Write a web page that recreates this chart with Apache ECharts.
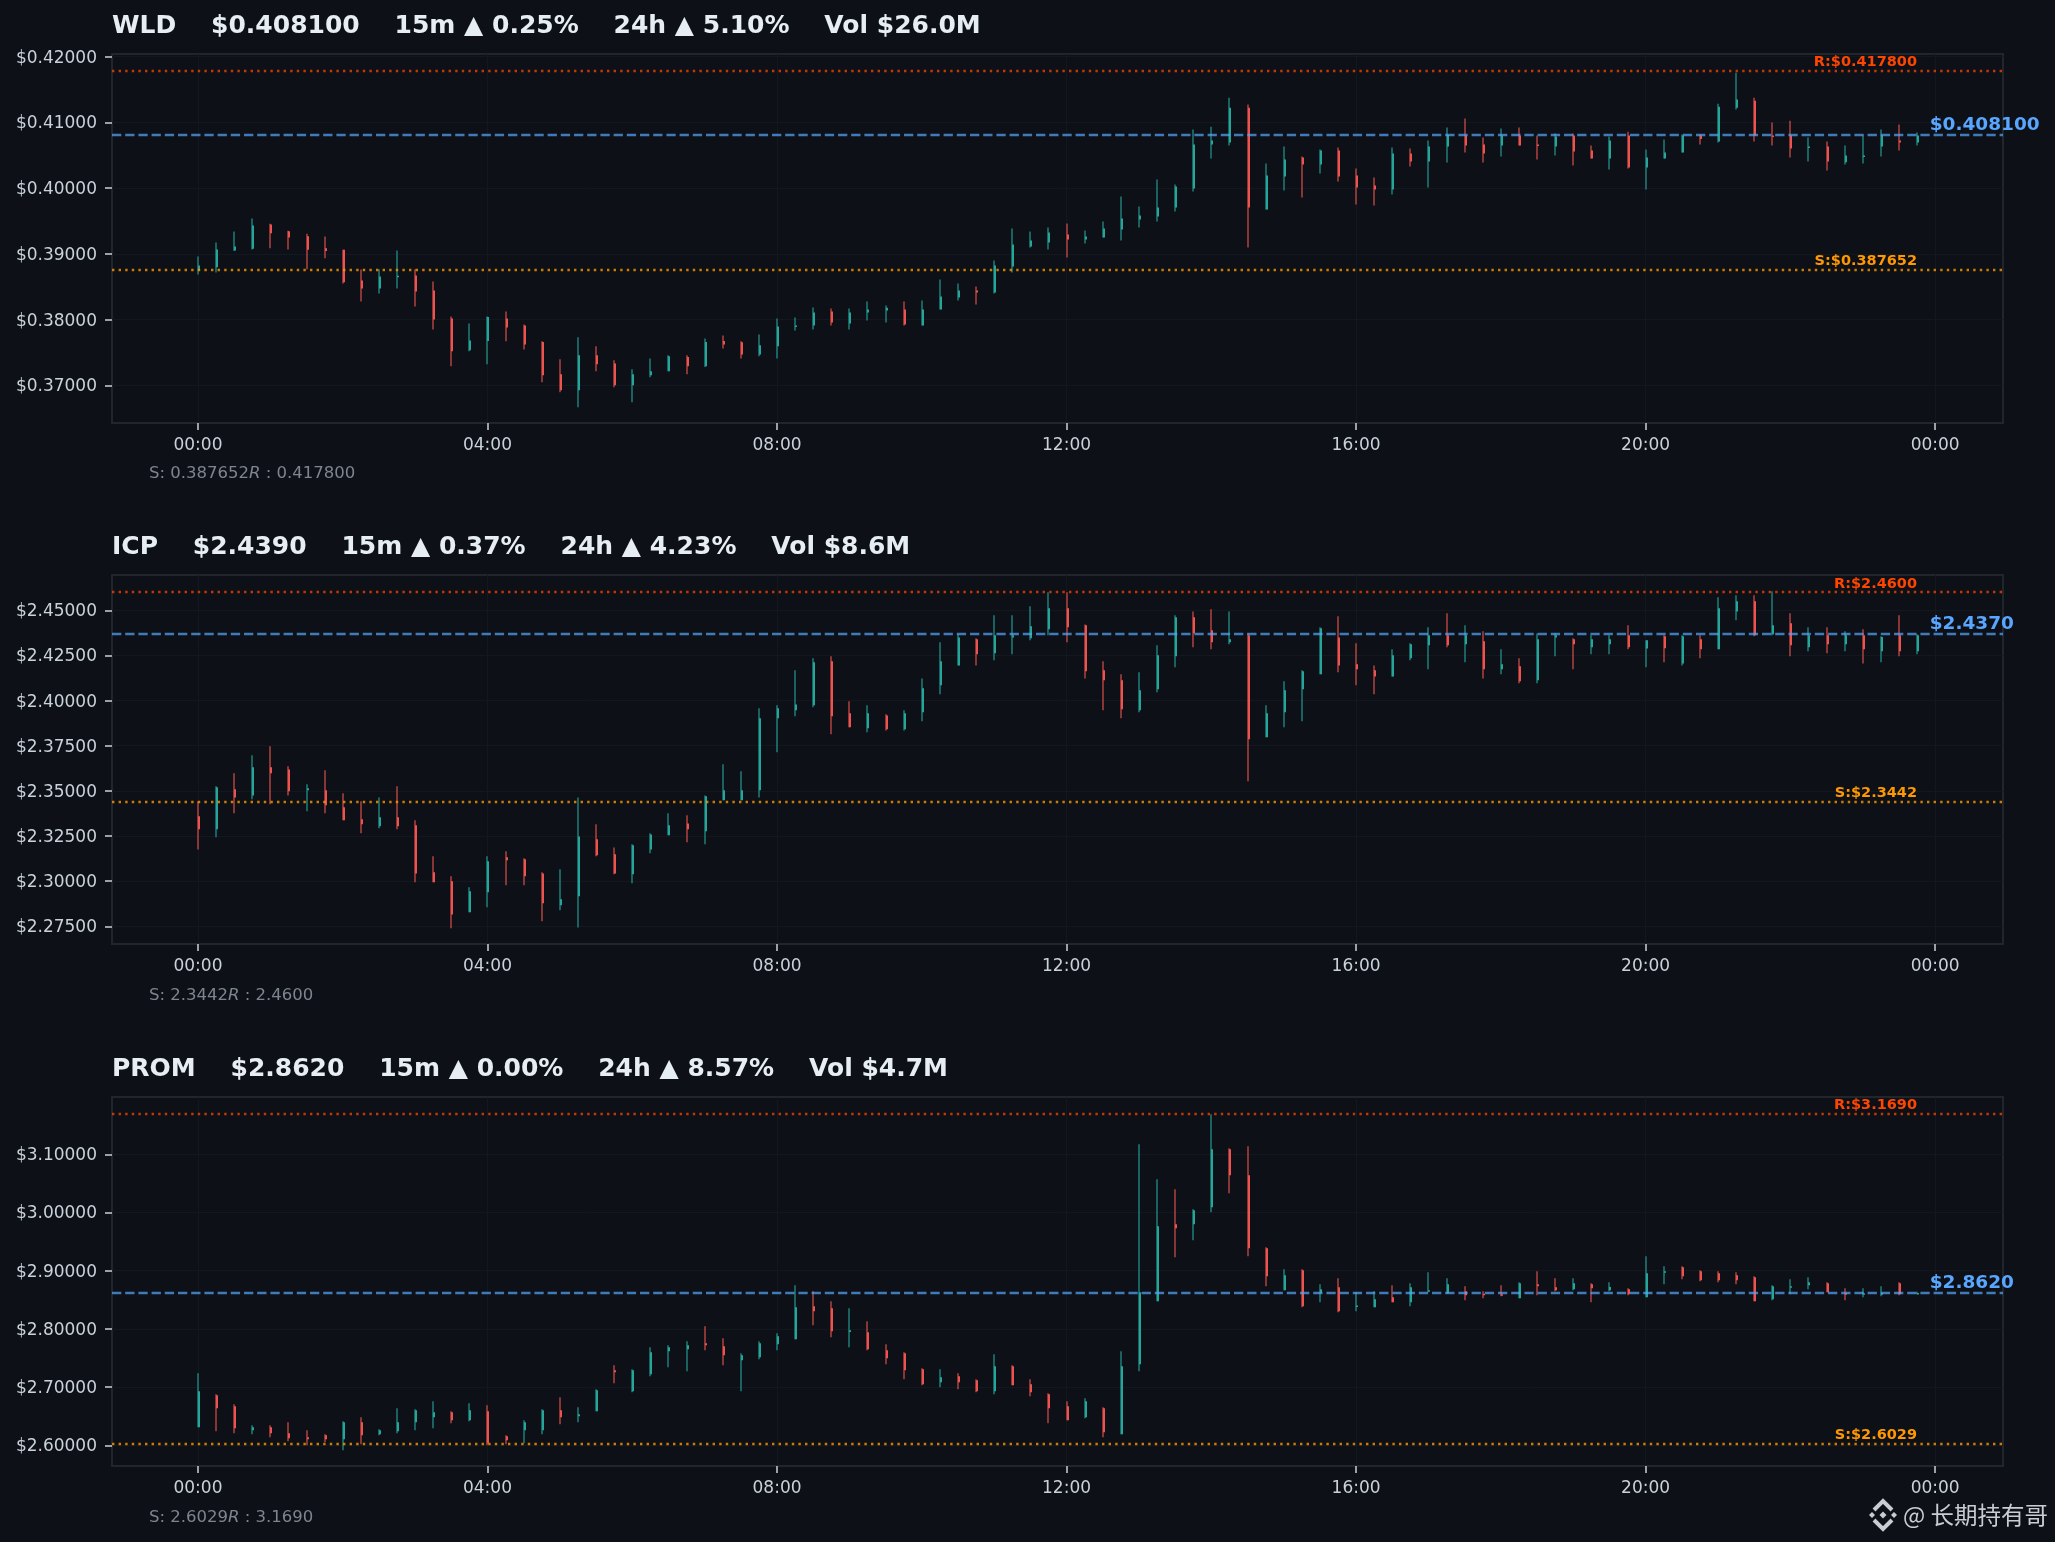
<!DOCTYPE html>
<html><head><meta charset="utf-8">
<script src="https://cdn.jsdelivr.net/npm/echarts@6/dist/echarts.min.js"></script>
<style>html,body{margin:0;padding:0;background:#0d1117}#c{width:2055px;height:1542px}</style>
</head><body><div id="c"></div>
<script>
// Candles: [open, high, low, close], one row per 15 minutes
const wldCandles=[[.38748,.38961,.38687,.38824],[.38798,.39173,.38717,.39067],[.39052,.39340,.39042,.39113],[.39077,.39538,.39067,.39432],[.39447,.39457,.39087,.39315],[.39346,.39351,.39067,.39249],[.39270,.39305,.38768,.39062],[.39087,.39265,.38935,.39042],[.39062,.39062,.38550,.38570],[.38596,.38763,.38277,.38474],[.38474,.38768,.38398,.38657],[.38646,.39052,.38474,.38667],[.38672,.38768,.38201,.38429],[.38444,.38581,.37851,.38003],[.38018,.38049,.37289,.37517],[.37532,.37942,.37517,.37684],[.37674,.38049,.37319,.38039],[.38018,.38125,.37669,.37881],[.37912,.37927,.37547,.37623],[.37659,.37669,.37046,.37152],[.37167,.37395,.36894,.36924],[.36924,.37730,.36666,.37456],[.37456,.37593,.37213,.37319],[.37334,.37380,.36970,.37000],[.37000,.37243,.36742,.37167],[.37152,.37410,.37122,.37213],[.37213,.37456,.37213,.37441],[.37431,.37456,.37167,.37289],[.37289,.37714,.37279,.37659],[.37674,.37760,.37562,.37623],[.37654,.37669,.37410,.37471],[.37471,.37775,.37441,.37608],[.37593,.38018,.37410,.37897],[.37887,.38033,.37836,.37912],[.37912,.38185,.37851,.38109],[.38125,.38170,.37912,.37957],[.37942,.38170,.37851,.38109],[.38109,.38277,.37988,.38155],[.38140,.38216,.37957,.38180],[.38155,.38277,.37912,.37927],[.37912,.38292,.37912,.38155],[.38155,.38611,.38155,.38353],[.38337,.38550,.38292,.38444],[.38444,.38505,.38231,.38413],[.38413,.38900,.38398,.38824],[.38809,.39386,.38717,.39143],[.39113,.39340,.39097,.39204],[.39173,.39401,.39067,.39325],[.39295,.39462,.38945,.39219],[.39219,.39356,.39158,.39265],[.39249,.39492,.39249,.39386],[.39371,.39872,.39204,.39538],[.39523,.39720,.39401,.39584],[.39568,.40131,.39492,.39705],[.39705,.40055,.39644,.40024],[.39994,.40891,.39948,.40663],[.40663,.40936,.40450,.40724],[.40693,.41377,.40648,.41225],[.41225,.41271,.39097,.39705],[.39675,.40374,.39675,.40192],[.40176,.40632,.39964,.40435],[.40465,.40480,.39857,.40359],[.40359,.40587,.40222,.40572],[.40572,.40617,.40100,.40176],[.40192,.40298,.39751,.40009],[.40040,.40161,.39736,.39979],[.39979,.40617,.39903,.40526],[.40526,.40602,.40328,.40404],[.40404,.40724,.40009,.40632],[.40632,.40921,.40389,.40810],[.40800,.41058,.40541,.40648],[.40663,.40769,.40389,.40526],[.40648,.40906,.40480,.40800],[.40800,.40921,.40648,.40648],[.40663,.40800,.40435,.40648],[.40632,.40830,.40496,.40784],[.40800,.40830,.40344,.40556],[.40572,.40648,.40450,.40450],[.40450,.40784,.40283,.40724],[.40800,.40860,.40298,.40313],[.40313,.40587,.39979,.40465],[.40450,.40739,.40450,.40541],[.40541,.40815,.40541,.40800],[.40800,.40815,.40663,.40749],[.40708,.41286,.40693,.41240],[.41225,.41757,.41195,.41347],[.41331,.41377,.40708,.40800],[.40800,.40997,.40648,.40784],[.40800,.41027,.40465,.40602],[.40612,.40769,.40404,.40632],[.40632,.40708,.40268,.40404],[.40394,.40648,.40359,.40496],[.40480,.40800,.40374,.40496],[.40632,.40891,.40480,.40800],[.40724,.40967,.40572,.40693],[.40693,.40845,.40648,.40800]];
const icpCandles=[[2.3359,2.3442,2.3176,2.3287],[2.3287,2.3525,2.3243,2.3520],[2.3509,2.3597,2.3376,2.3464],[2.3475,2.3697,2.3453,2.3631],[2.3631,2.3747,2.3426,2.3597],[2.3619,2.3636,2.3475,2.3498],[2.3503,2.3536,2.3387,2.3514],[2.3503,2.3614,2.3376,2.3420],[2.3409,2.3487,2.3337,2.3337],[2.3343,2.3442,2.3265,2.3315],[2.3304,2.3464,2.3293,2.3354],[2.3354,2.3525,2.3287,2.3304],[2.3309,2.3337,2.2994,2.3043],[2.3049,2.3138,2.2994,2.2994],[2.2999,2.3027,2.2739,2.2816],[2.2828,2.2966,2.2828,2.2944],[2.2938,2.3138,2.2855,2.3110],[2.3132,2.3165,2.2977,2.3116],[2.3121,2.3127,2.2977,2.3027],[2.3043,2.3049,2.2778,2.2877],[2.2866,2.3066,2.2839,2.2900],[2.2916,2.3464,2.2744,2.3248],[2.3232,2.3315,2.3138,2.3143],[2.3149,2.3187,2.3038,2.3043],[2.3038,2.3204,2.2988,2.3199],[2.3176,2.3265,2.3154,2.3259],[2.3254,2.3376,2.3254,2.3309],[2.3320,2.3365,2.3215,2.3287],[2.3276,2.3475,2.3204,2.3470],[2.3448,2.3647,2.3448,2.3503],[2.3448,2.3608,2.3448,2.3503],[2.3503,2.3957,2.3464,2.3902],[2.3902,2.3974,2.3714,2.3957],[2.3946,2.4168,2.3913,2.3979],[2.3974,2.4234,2.3963,2.4212],[2.4218,2.4245,2.3813,2.3913],[2.3930,2.3996,2.3852,2.3852],[2.3847,2.3974,2.3824,2.3930],[2.3918,2.3924,2.3835,2.3841],[2.3841,2.3946,2.3835,2.3930],[2.3935,2.4123,2.3885,2.4068],[2.4085,2.4323,2.4035,2.4218],[2.4195,2.4367,2.4195,2.4350],[2.4339,2.4345,2.4195,2.4256],[2.4262,2.4472,2.4223,2.4362],[2.4349,2.4472,2.4256,2.4362],[2.4345,2.4522,2.4334,2.4411],[2.4395,2.4600,2.4362,2.4511],[2.4511,2.4600,2.4323,2.4406],[2.4417,2.4422,2.4123,2.4162],[2.4168,2.4218,2.3946,2.4112],[2.4112,2.4146,2.3902,2.3952],[2.3946,2.4157,2.3935,2.4057],[2.4063,2.4306,2.4046,2.4251],[2.4245,2.4472,2.4184,2.4461],[2.4461,2.4494,2.4295,2.4373],[2.4389,2.4506,2.4284,2.4323],[2.4323,2.4494,2.4312,2.4339],[2.4362,2.4373,2.3553,2.3786],[2.3797,2.3974,2.3797,2.3930],[2.3935,2.4107,2.3852,2.4057],[2.4063,2.4168,2.3885,2.4162],[2.4146,2.4406,2.4146,2.4400],[2.4350,2.4467,2.4157,2.4195],[2.4201,2.4317,2.4085,2.4173],[2.4168,2.4195,2.4035,2.4134],[2.4134,2.4284,2.4134,2.4251],[2.4234,2.4317,2.4223,2.4312],[2.4306,2.4406,2.4173,2.4362],[2.4362,2.4483,2.4295,2.4306],[2.4312,2.4417,2.4212,2.4362],[2.4328,2.4384,2.4123,2.4173],[2.4173,2.4284,2.4146,2.4201],[2.4190,2.4234,2.4096,2.4107],[2.4112,2.4371,2.4096,2.4339],[2.4349,2.4373,2.4245,2.4362],[2.4339,2.4345,2.4173,2.4312],[2.4295,2.4362,2.4256,2.4339],[2.4312,2.4362,2.4256,2.4339],[2.4362,2.4417,2.4284,2.4295],[2.4288,2.4334,2.4184,2.4334],[2.4356,2.4362,2.4212,2.4290],[2.4206,2.4362,2.4195,2.4356],[2.4339,2.4362,2.4234,2.4284],[2.4284,2.4572,2.4284,2.4511],[2.4494,2.4583,2.4445,2.4550],[2.4550,2.4583,2.4356,2.4362],[2.4367,2.4605,2.4362,2.4417],[2.4428,2.4483,2.4245,2.4306],[2.4295,2.4406,2.4273,2.4362],[2.4362,2.4406,2.4262,2.4312],[2.4312,2.4384,2.4273,2.4362],[2.4362,2.4395,2.4206,2.4284],[2.4273,2.4356,2.4212,2.4352],[2.4362,2.4472,2.4245,2.4273],[2.4273,2.4367,2.4256,2.4362]];
const promCandles=[[2.6309,2.7237,2.6309,2.6928],[2.6859,2.6876,2.6241,2.6636],[2.6670,2.6704,2.6206,2.6292],[2.6258,2.6344,2.6189,2.6309],[2.6309,2.6344,2.6137,2.6206],[2.6206,2.6395,2.6069,2.6120],[2.6137,2.6258,2.6000,2.6103],[2.6172,2.6189,2.6052,2.6103],[2.6103,2.6412,2.5914,2.6395],[2.6395,2.6481,2.6017,2.6172],[2.6189,2.6275,2.6172,2.6258],[2.6241,2.6636,2.6206,2.6395],[2.6395,2.6619,2.6258,2.6601],[2.6481,2.6756,2.6292,2.6567],[2.6567,2.6584,2.6378,2.6430],[2.6430,2.6722,2.6412,2.6601],[2.6584,2.6687,2.6000,2.6034],[2.6155,2.6172,2.6017,2.6086],[2.6258,2.6430,2.6034,2.6395],[2.6258,2.6619,2.6189,2.6601],[2.6601,2.6825,2.6361,2.6481],[2.6498,2.6653,2.6395,2.6533],[2.6584,2.6962,2.6584,2.6945],[2.7289,2.7374,2.7065,2.7254],[2.6928,2.7306,2.6911,2.7289],[2.7220,2.7684,2.7185,2.7598],[2.7615,2.7718,2.7340,2.7684],[2.7649,2.7787,2.7271,2.7718],[2.7752,2.8045,2.7632,2.7718],[2.7701,2.7838,2.7374,2.7546],[2.7460,2.7581,2.6928,2.7546],[2.7512,2.7787,2.7478,2.7752],[2.7735,2.7924,2.7632,2.7873],[2.7821,2.8749,2.7821,2.8371],[2.8388,2.8646,2.8062,2.8302],[2.8354,2.8474,2.7856,2.7959],[2.7947,2.8354,2.7684,2.7976],[2.7941,2.8130,2.7632,2.7649],[2.7632,2.7735,2.7392,2.7495],[2.7581,2.7598,2.7134,2.7289],[2.7306,2.7323,2.7031,2.7048],[2.7082,2.7306,2.6996,2.7168],[2.7185,2.7237,2.6962,2.7082],[2.7117,2.7134,2.6911,2.6928],[2.6928,2.7563,2.6876,2.7357],[2.7357,2.7374,2.7031,2.7031],[2.7048,2.7134,2.6842,2.6911],[2.6876,2.6893,2.6378,2.6636],[2.6670,2.6756,2.6430,2.6430],[2.6481,2.6808,2.6464,2.6756],[2.6636,2.6653,2.6137,2.6223],[2.6189,2.7615,2.6189,2.7357],[2.7392,3.1171,2.7271,2.8629],[2.8474,3.0570,2.8474,2.9763],[2.9797,3.0398,2.9230,2.9728],[2.9797,3.0055,2.9522,3.0037],[3.0089,3.1687,3.0003,3.1086],[3.1086,3.1103,3.0330,3.0639],[3.0639,3.1137,2.9247,2.9385],[2.9385,2.9402,2.8732,2.8904],[2.8663,2.9024,2.8663,2.8921],[2.9007,2.9024,2.8371,2.8388],[2.8623,2.8766,2.8457,2.8680],[2.8715,2.8869,2.8285,2.8302],[2.8377,2.8629,2.8302,2.8400],[2.8371,2.8646,2.8371,2.8508],[2.8543,2.8749,2.8457,2.8457],[2.8457,2.8783,2.8388,2.8715],[2.8652,2.8972,2.8629,2.8663],[2.8617,2.8869,2.8606,2.8766],[2.8646,2.8732,2.8491,2.8577],[2.8606,2.8646,2.8526,2.8577],[2.8594,2.8749,2.8560,2.8577],[2.8526,2.8801,2.8526,2.8783],[2.8766,2.8989,2.8577,2.8732],[2.8715,2.8869,2.8646,2.8663],[2.8680,2.8869,2.8663,2.8783],[2.8766,2.8783,2.8457,2.8697],[2.8663,2.8801,2.8646,2.8720],[2.8680,2.8697,2.8577,2.8594],[2.8543,2.9247,2.8543,2.8955],[2.8967,2.9075,2.8766,2.8989],[2.9058,2.9075,2.8852,2.8904],[2.8989,2.9007,2.8818,2.8835],[2.8955,2.8989,2.8801,2.8835],[2.8921,2.8972,2.8766,2.8835],[2.8886,2.8904,2.8474,2.8474],[2.8508,2.8749,2.8491,2.8732],[2.8715,2.8852,2.8594,2.8732],[2.8749,2.8886,2.8680,2.8801],[2.8783,2.8801,2.8629,2.8629],[2.8612,2.8697,2.8491,2.8594],[2.8594,2.8697,2.8543,2.8612],[2.8594,2.8732,2.8560,2.8612],[2.8783,2.8801,2.8577,2.8594],[2.8606,2.8640,2.8594,2.8617]];

const timeTicks=[0,16,32,48,64,80,96];
const timeLabels=['00:00','04:00','08:00','12:00','16:00','20:00','00:00'];
const wldTicks=[0.37,0.38,0.39,0.40,0.41,0.42];
const icpTicks=[2.275,2.30,2.325,2.35,2.375,2.40,2.425,2.45];
const promTicks=[2.6,2.7,2.8,2.9,3.0,3.1];
const wldRange=[0.36427,0.42041], icpRange=[2.2652,2.46955], promRange=[2.5644,3.1985];
const wldLevels={s:0.387652,r:0.4178,cur:0.4081}, icpLevels={s:2.3442,r:2.46,cur:2.437}, promLevels={s:2.6029,r:3.169,cur:2.862};
const headers=['WLD    $0.408100    15m ▲ 0.25%    24h ▲ 5.10%    Vol $26.0M','ICP    $2.4390    15m ▲ 0.37%    24h ▲ 4.23%    Vol $8.6M','PROM    $2.8620    15m ▲ 0.00%    24h ▲ 8.57%    Vol $4.7M'];
const levelText=[['0.387652','0.417800','$0.387652','$0.417800','$0.408100'],['2.3442','2.4600','$2.3442','$2.4600','$2.4370'],['2.6029','3.1690','$2.6029','$3.1690','$2.8620']];

const FONT='"DejaVu Sans"';
const UP='#26a69a',DOWN='#ef5350',WICK_ALPHA=0.55;
const panels=[
 {candles:wldCandles,ticks:wldTicks,range:wldRange,lv:wldLevels,top:54,bottom:423,headY:26,subY:474},
 {candles:icpCandles,ticks:icpTicks,range:icpRange,lv:icpLevels,top:575,bottom:944,headY:547.5,subY:996},
 {candles:promCandles,ticks:promTicks,range:promRange,lv:promLevels,top:1097,bottom:1466,headY:1069,subY:1518}
];
const renderCandle=(params,api)=>{
  const i=api.value(0),o=api.value(1),h=api.value(2),l=api.value(3),c=api.value(4);
  const col=c>=o?UP:DOWN;
  const x=Math.round(api.coord([i,h])[0]);
  const yh=api.coord([i,h])[1],yl=api.coord([i,l])[1];
  const yt=api.coord([i,Math.max(o,c)])[1],yb=api.coord([i,Math.min(o,c)])[1];
  return {type:'group',children:[
    {type:'rect',shape:{x:x-1,y:yh,width:2,height:Math.max(yl-yh,1)},style:{fill:col,opacity:WICK_ALPHA}},
    {type:'rect',shape:{x:x,y:yt,width:2,height:Math.max(yb-yt,1.5)},style:{fill:col}}
  ]};
};
const hidden={color:'rgba(0,0,0,0)'};
const grids=[],xAxes=[],yAxes=[],series=[],graphics=[];
panels.forEach((p,k)=>{
  grids.push({left:112,right:52,top:p.top,height:p.bottom-p.top,show:true,borderColor:'#21262d',borderWidth:2,backgroundColor:'transparent'});
  xAxes.push({type:'value',gridIndex:k,min:-4.75,max:99.75,
    axisLine:{show:false,onZero:false},
    axisTick:{show:true,customValues:timeTicks,length:7,lineStyle:{color:'#c9d1d9',width:1.5}},
    axisLabel:{show:true,customValues:timeTicks,color:'#c9d1d9',fontFamily:FONT,fontSize:17,margin:14,
      formatter:v=>timeLabels[timeTicks.indexOf(v)]},
    splitLine:{show:true,lineStyle:{color:'#13181f',width:1}}});
  yAxes.push({type:'value',gridIndex:k,min:p.range[0],max:p.range[1],
    axisLine:{show:false,onZero:false},
    axisTick:{show:true,customValues:p.ticks,length:7,lineStyle:{color:'#c9d1d9',width:1.5}},
    axisLabel:{show:true,customValues:p.ticks,color:'#c9d1d9',fontFamily:FONT,fontSize:17,margin:15,verticalAlign:'top',lineHeight:3,
      formatter:v=>'$'+v.toFixed(5)},
    splitLine:{show:true,lineStyle:{color:'#13181f',width:1}}});
  const t=levelText[k];
  const lab=(txt,color,size,align,off)=>({show:true,position:'inside',opacity:1,formatter:txt,color:color,fontFamily:FONT,fontWeight:'bold',fontSize:size,align:align,verticalAlign:'bottom',offset:off});
  series.push({type:'custom',xAxisIndex:k,yAxisIndex:k,silent:true,clip:true,
    data:p.candles.map((r,i)=>[i,r[0],r[1],r[2],r[3]]),
    encode:{x:0,y:[1,2,3,4]},renderItem:renderCandle,z:3,
    markLine:{silent:true,symbol:'none',animation:false,precision:6,z:4,label:{show:false},data:[
      {yAxis:p.lv.r,lineStyle:{color:'#ff4500',type:[2.4,4.2],width:2.4,opacity:0.75}},
      {yAxis:p.lv.s,lineStyle:{color:'#ff9800',type:[2.4,4.2],width:2.4,opacity:0.8}},
      {yAxis:p.lv.cur,lineStyle:{color:'#58a6ff',type:[9.3,3.9],width:2.4,opacity:0.7}}
    ]},
    markPoint:{silent:true,symbol:'circle',symbolSize:1,itemStyle:hidden,animation:false,z:6,data:[
      {coord:[95,p.lv.r],itemStyle:hidden,label:lab('R:'+t[3],'#ff4500',14.5,'right',[0,-1])},
      {coord:[95,p.lv.s],itemStyle:hidden,label:lab('S:'+t[2],'#ff9800',14.5,'right',[0,-1])},
      {coord:[95.7,p.lv.cur],itemStyle:hidden,label:lab(t[4],'#58a6ff',18.5,'left',[0,0])}
    ]}
  });
  graphics.push({type:'text',x:112,y:p.headY,z:10,style:{text:headers[k],fill:'#e6edf3',font:'bold 25px '+FONT,verticalAlign:'middle',align:'left'}});
  graphics.push({type:'text',x:149,y:p.subY,z:10,style:{
    text:'{a|S: '+t[0]+'}{b|R}{a| : '+t[1]+'}',verticalAlign:'middle',align:'left',
    rich:{a:{fill:'#7d8590',font:'16.5px '+FONT},b:{fill:'#7d8590',font:'italic 16.5px '+FONT}}}});
});
// Watermark
const wmFill='#c9ccd1';
const diamond=(cx,cy,r)=>({type:'polygon',z:10,shape:{points:[[cx,cy-r],[cx+r,cy],[cx,cy+r],[cx-r,cy]]},style:{fill:wmFill}});
const chev=(cx,cy,dir)=>({type:'polyline',z:10,shape:{points:[[cx-9,cy+dir*4],[cx,cy-dir*5],[cx+9,cy+dir*4]]},style:{stroke:wmFill,lineWidth:4,fill:'none'}});
graphics.push(diamond(1883,1515,3.5),diamond(1872,1515,3),diamond(1894,1515,3),chev(1883,1506,1),chev(1883,1524,-1));
graphics.push({type:'text',x:1903,y:1515,z:10,style:{text:'@ 长期持有哥',fill:wmFill,font:'23.5px "Noto Sans CJK SC"',verticalAlign:'middle',align:'left',shadowColor:'#000',shadowBlur:2,shadowOffsetX:1,shadowOffsetY:1}});

const chart=echarts.init(document.getElementById('c'),null,{renderer:'canvas'});
chart.setOption({animation:false,backgroundColor:'#0d1117',grid:grids,xAxis:xAxes,yAxis:yAxes,series:series,graphic:graphics});
</script></body></html>
